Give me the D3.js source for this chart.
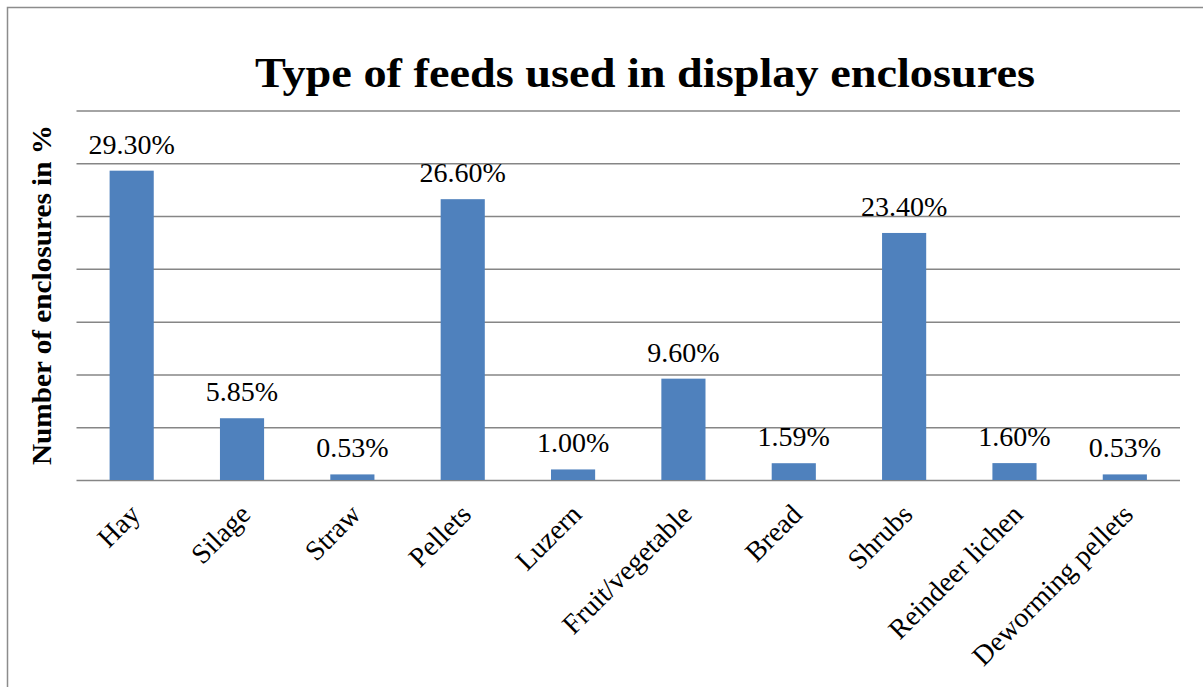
<!DOCTYPE html>
<html lang="en">
<head>
    <meta charset="UTF-8">
    <title>Type of feeds used in display enclosures</title>
    <script src="https://d3js.org/d3.v7.min.js"></script>
    <style>
        body { margin: 0; background: #fff; }
        svg { font-family: "Liberation Serif", "DejaVu Serif", serif; }
        .grid line { stroke: #868686; stroke-width: 1.5px; }
        .grid .domain { display: none; }
    </style>
</head>
<body>
    <script>
        // Data
        const categories = ["Hay", "Silage", "Straw", "Pellets", "Luzern", "Fruit/vegetable",
            "Bread", "Shrubs", "Reindeer lichen", "Deworming pellets"];
        const values = [29.30, 5.85, 0.53, 26.60, 1.00, 9.60, 1.59, 23.40, 1.60, 0.53];
        const yTicks = [0, 5, 10, 15, 20, 25, 30, 35];

        const W = 1203, H = 687;
        const plot = { left: 76.5, right: 1180, top: 110.5, bottom: 480 };

        const svg = d3.select("body").append("svg")
            .attr("width", W)
            .attr("height", H);

        // outer frame (top + left edges visible)
        svg.append("path")
            .attr("d", `M7.5,${H} L7.5,7.5 L${W},7.5`)
            .attr("fill", "none")
            .attr("stroke", "#8c8c8c")
            .attr("stroke-width", 1.5);

        const x = d3.scaleBand()
            .domain(categories)
            .range([plot.left, plot.right])
            .paddingInner(0.6)
            .paddingOuter(0.3);

        const y = d3.scaleLinear()
            .domain([0, 35])
            .range([plot.bottom, plot.top]);

        // gridlines
        svg.append("g")
            .attr("class", "grid")
            .attr("transform", `translate(${plot.left},0)`)
            .call(d3.axisLeft(y).tickValues(yTicks).tickSize(-(plot.right - plot.left)).tickFormat(""));

        // bars
        svg.selectAll("rect.bar")
            .data(values)
            .join("rect")
            .attr("class", "bar")
            .attr("x", (d, i) => x(categories[i]))
            .attr("y", d => y(d))
            .attr("width", x.bandwidth())
            .attr("height", d => y(0) - y(d))
            .attr("fill", "#4f81bd");

        // value labels
        svg.selectAll("text.val")
            .data(values)
            .join("text")
            .attr("class", "val")
            .attr("x", (d, i) => x(categories[i]) + x.bandwidth() / 2)
            .attr("y", d => y(d) - 17)
            .attr("text-anchor", "middle")
            .attr("font-size", 28)
            .attr("fill", "#000")
            .text(d => d.toFixed(2) + "%");

        // category labels, rotated
        svg.selectAll("text.cat")
            .data(categories)
            .join("text")
            .attr("class", "cat")
            .attr("text-anchor", "end")
            .attr("font-size", 28)
            .attr("transform", d => {
                const cx = x(d) + x.bandwidth() / 2 + 10;
                return `translate(${cx},${plot.bottom + 36}) rotate(-45)`;
            })
            .text(d => d);

        // title
        svg.append("text")
            .attr("x", 645)
            .attr("y", 87)
            .attr("text-anchor", "middle")
            .attr("font-size", 43)
            .attr("font-weight", "bold")
            .attr("textLength", 780)
            .attr("lengthAdjust", "spacingAndGlyphs")
            .text("Type of feeds used in display enclosures");

        // y axis title
        svg.append("text")
            .attr("transform", `translate(51,295) rotate(-90)`)
            .attr("text-anchor", "middle")
            .attr("font-size", 27)
            .attr("font-weight", "bold")
            .attr("textLength", 340)
            .attr("lengthAdjust", "spacingAndGlyphs")
            .text("Number of enclosures in %");
    </script>
</body>
</html>
